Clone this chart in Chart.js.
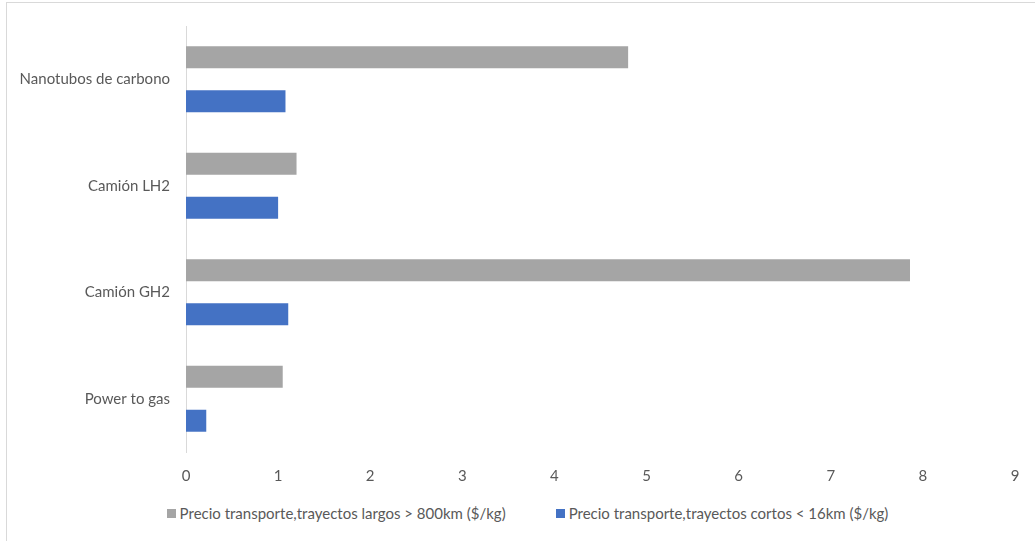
<!DOCTYPE html>
<html>
<head>
<meta charset="utf-8">
<script src="https://cdn.jsdelivr.net/npm/chart.js@4.4.1/dist/chart.umd.min.js"></script>
<style>
  html, body { margin: 0; padding: 0; background: #fff; }
  #wrap { position: relative; width: 1035px; height: 541px; overflow: hidden; font-family: Lato, "Open Sans", sans-serif; }
  #frame { position: absolute; left: 6px; top: 2px; width: 1100px; height: 600px; border-top: 1px solid #d9d9d9; border-left: 1px solid #d9d9d9; }
  #chart-box { position: absolute; left: 0; top: 0; width: 1035px; height: 500px; }
  #legend { position: absolute; left: 10px; top: 504px; width: 1035px; display: flex; justify-content: center; gap: 50px; font-size: 15px; color: #595959; }
  .lg-item { display: flex; align-items: center; white-space: nowrap; }
  .lg-box { width: 9px; height: 9px; margin-right: 4px; }
</style>
</head>
<body>
<div id="wrap">
  <div id="frame"></div>
  <div id="chart-box"><canvas id="bars"></canvas></div>
  <div id="legend"></div>
</div>
<script>
// ── Data ─────────────────────────────────────────────────────────────
const categories = ['Nanotubos de carbono', 'Camión LH2', 'Camión GH2', 'Power to gas'];
const largos = [4.80, 1.20, 7.86, 1.05];
const cortos = [1.08, 1.00, 1.11, 0.22];
const xTicks = [0, 1, 2, 3, 4, 5, 6, 7, 8, 9];

const seriesNames = [
  'Precio transporte,trayectos largos > 800km ($/kg)',
  'Precio transporte,trayectos cortos < 16km ($/kg)'
];
const seriesColors = ['#a5a5a5', '#4472c4'];
const textColor = '#595959';
const font = { family: 'Lato, "Open Sans", sans-serif', size: 15 };

// ── Chart ────────────────────────────────────────────────────────────
const chart = new Chart(document.getElementById('bars'), {
  type: 'bar',
  data: {
    labels: categories,
    datasets: [
      { label: seriesNames[0], data: largos, backgroundColor: seriesColors[0] },
      { label: seriesNames[1], data: cortos, backgroundColor: seriesColors[1] }
    ]
  },
  options: {
    indexAxis: 'y',
    responsive: true,
    maintainAspectRatio: false,
    animation: false,
    categoryPercentage: 0.826,
    barPercentage: 0.5,
    layout: { padding: { top: 26, right: 20, left: 0, bottom: 0 } },
    plugins: { legend: { display: false }, tooltip: { enabled: false } },
    scales: {
      x: {
        min: 0,
        max: 9,
        afterBuildTicks: s => { s.ticks = xTicks.map(v => ({ value: v })); },
        grid: { display: false, drawTicks: false },
        border: { display: false },
        ticks: { color: textColor, font, padding: 15 }
      },
      y: {
        afterFit: s => { s.width = 186; },
        grid: { display: false, drawTicks: false, color: '#d9d9d9' },
        border: { display: true, color: '#d9d9d9', width: 1 },
        ticks: { color: textColor, font, padding: 16 }
      }
    }
  }
});

// ── Legend ───────────────────────────────────────────────────────────
document.getElementById('legend').innerHTML = chart.data.datasets.map(ds =>
  `<div class="lg-item"><span class="lg-box" style="background:${ds.backgroundColor}"></span>${ds.label}</div>`
).join('');
</script>
</body>
</html>
